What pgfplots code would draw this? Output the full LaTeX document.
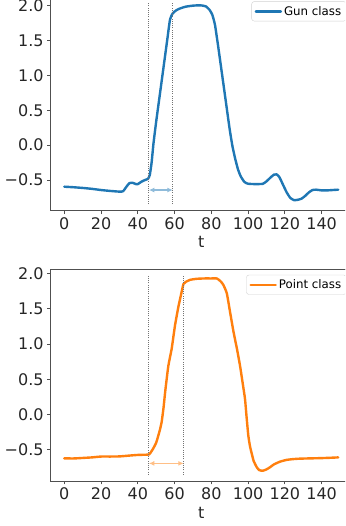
\documentclass[border=0pt]{standalone}
\usepackage{fontspec}
\setmainfont{DejaVu Sans}
\usepackage{pgfplots}
\pgfplotsset{compat=1.18}
\usetikzlibrary{arrows.meta}

\definecolor{mplblue}{RGB}{31,119,180}
\definecolor{mplorange}{RGB}{255,127,14}
\definecolor{spinegray}{RGB}{80,80,80}

\pgfplotsset{
  panel/.style={
    scale only axis,
    width=301.3pt,
    xmin=-7.45, xmax=156.45,
    axis line style={spinegray, line width=0.8pt},
    tick style={spinegray, line width=0.8pt},
    major tick length=3.5pt,
    tick align=outside,
    xtick pos=bottom, ytick pos=left,
    xtick={0,20,...,140},
    ytick={-0.5,0,0.5,1,1.5,2},
    yticklabels={−0.5,0.0,0.5,1.0,1.5,2.0},
    /pgf/number format/assume math mode=true,
    ticklabel style={font=\fontsize{16}{19}\selectfont, text=black!85},
    xlabel={t},
    xlabel style={font=\fontsize{16}{19}\selectfont, text=black!85},
    legend cell align=left,
    legend image code/.code={\draw[#1] (0pt,0pt) -- (25pt,0pt);},
    legend style={at={(1,1)}, anchor=north east, xshift=-5.5pt, yshift=-5.5pt,
      draw=black!18, rounded corners=2.5pt, fill=white, fill opacity=0.8,
      text opacity=1, font=\fontsize{11.8}{14}\selectfont,
      inner xsep=3pt, inner ysep=2.5pt},
  },
  curve/.style={line width=2.4pt, line join=round, line cap=round, smooth, tension=0.3},
  vline/.style={forget plot, black!55, line width=0.8pt, dash pattern=on 0.8pt off 1.4pt},
  span/.style={forget plot, line width=1.3pt, {Latex[length=5.5pt,width=5pt]}-{Latex[length=5.5pt,width=5pt]}},
}

\begin{document}
\begin{tikzpicture}[x=1pt,y=1pt]
\useasboundingbox (0,0) rectangle (345,526);
\clip (0,0) rectangle (345,526);

% Gun class
\begin{axis}[panel, at={(50.6pt,315.4pt)}, anchor=south west,
  height=214.7pt, ymin=-0.94, ymax=2.14]
\addplot[curve, mplblue] coordinates {
 (0,-0.597) (5,-0.605) (10,-0.615) (15,-0.628) (20,-0.645) (25,-0.658)
 (30,-0.668) (32,-0.662) (34,-0.59) (35.5,-0.545) (37,-0.54) (39,-0.56)
 (40,-0.56) (42,-0.525) (44,-0.50) (45.5,-0.485) (46.5,-0.43) (47.5,-0.25)
 (48.5,0.02) (50,0.34) (52,0.73) (54,1.12) (56,1.51) (57.5,1.80) (59,1.89)
 (61,1.935) (63,1.96) (66,1.985) (70,2.0) (74,2.005) (77,1.99) (79,1.94)
 (80.5,1.87) (82,1.72) (84,1.36) (86,0.98) (88,0.60) (90,0.22) (91.5,-0.02)
 (93,-0.20) (94.5,-0.35) (96,-0.45) (98,-0.53) (100,-0.555) (104,-0.56)
 (108,-0.556) (110,-0.52) (112,-0.47) (114,-0.425) (115.5,-0.42) (117,-0.46)
 (119,-0.57) (121,-0.68) (123,-0.76) (125,-0.79) (127,-0.785) (129,-0.77)
 (131,-0.73) (133,-0.68) (135,-0.645) (137,-0.64) (140,-0.65) (143,-0.65)
 (146,-0.645) (149,-0.64)
};
\addlegendentry{Gun class}
\addplot[vline] coordinates {(46,-0.848) (46,2.048)};
\addplot[vline] coordinates {(59,-0.848) (59,2.048)};
\addplot[span, mplblue!50!white] coordinates {(46,-0.645) (59,-0.645)};
\end{axis}

% Point class
\begin{axis}[panel, at={(50.6pt,45pt)}, anchor=south west,
  height=211.7pt, ymin=-0.945, ymax=2.06]
\addplot[curve, mplorange] coordinates {
 (0,-0.624) (5,-0.625) (10,-0.618) (15,-0.61) (20,-0.598) (25,-0.598)
 (30,-0.596) (35,-0.585) (40,-0.575) (44,-0.572) (46.2,-0.567) (48,-0.50)
 (50,-0.40) (52,-0.22) (53,-0.10) (54,0.10) (55,0.35) (56.6,0.69) (58.4,0.93)
 (60.2,1.26) (62,1.52) (63,1.64) (64.8,1.85) (66,1.88) (68.4,1.91) (72,1.925)
 (76,1.93) (80,1.93) (83,1.93) (85,1.89) (86.5,1.84) (88.4,1.72) (90,1.48)
 (92,1.18) (94,0.92) (95.6,0.69) (97,0.45) (98.3,0.22) (99.2,-0.05)
 (100.1,-0.30) (101,-0.45) (102,-0.56) (103,-0.66) (104.7,-0.75) (106,-0.79)
 (107.9,-0.80) (110,-0.78) (111.9,-0.75) (114,-0.71) (117.4,-0.67)
 (121,-0.645) (124.6,-0.634) (128,-0.628) (133.7,-0.624) (140,-0.62)
 (145,-0.615) (149,-0.61)
};
\addlegendentry{Point class}
\addplot[vline] coordinates {(46,-0.855) (46,1.97)};
\addplot[vline] coordinates {(65,-0.855) (65,1.97)};
\addplot[span, mplorange!50!white] coordinates {(46,-0.695) (65,-0.695)};
% top frame line of the lower panel
\draw[spinegray, line width=0.8pt] (rel axis cs:0,1) -- (rel axis cs:1,1);
\end{axis}
\end{tikzpicture}
\end{document}
